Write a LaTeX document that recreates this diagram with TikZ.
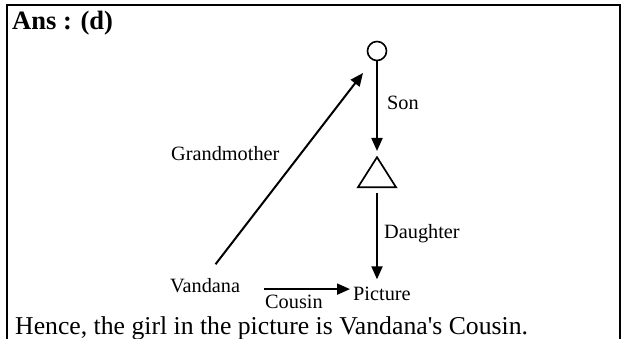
\documentclass[tikz,border=0pt]{standalone}
\usepackage{fontspec}
\setmainfont{Liberation Serif}
\usepackage{tikz}
\usetikzlibrary{shapes.geometric, arrows.meta, positioning}

\begin{document}
\begin{tikzpicture}[
    x=1pt, y=-1pt,
    label/.style={inner sep=0pt, anchor=base west, font=\fontsize{20.3}{22}\selectfont},
    female/.style={circle, draw=black, line width=1.6pt, minimum size=19pt, inner sep=0pt},
    male/.style={isosceles triangle, shape border rotate=90, isosceles triangle stretches, draw=black, line width=1.7pt, minimum width=38pt, minimum height=30pt, inner sep=0pt},
    arrow/.style={-{Triangle[length=13pt,width=11pt]}, line width=2pt, draw=black}
]
\useasboundingbox (0,0) rectangle (624,339);

% Open frame
\draw[line width=2pt] (7,339) -- (7,5) -- (620,5) -- (620,339);
\node[inner sep=0pt, anchor=base west, font=\fontsize{26.5}{28}\selectfont\bfseries] (ans) at (12,30) {Ans : (d)};

% Family tree
\node[female] (mother) at (377,51) {};
\node[male, anchor=apex] (father) at (377,155) {};
\node[label] (picture) at (353,300) {Picture};
\node[label] (vandana) at (170,292) {Vandana};
\coordinate (gmtip) at (363,73);

% Labels
\node[label] (son) at (387,110) {Son};
\node[label] (daughter) at (384,239) {Daughter};
\node[label] (grandmother) at (171,161) {Grandmother};
\node[label] (cousin) at (265,308) {Cousin};

% Connectors
\draw[arrow, shorten >=4pt] (mother.south) -- (father.apex);
\draw[arrow, shorten <=5pt, shorten >=7pt] (father.south) -- (father.south |- picture.north);
\draw[arrow, shorten <=17pt] (vandana.north) -- (gmtip);
\draw[arrow, shorten <=24pt, shorten >=3pt] ([yshift=-4pt]vandana.east) -- ([yshift=-4pt]vandana.east -| picture.west);

% Conclusion
\node[inner sep=0pt, anchor=base west, font=\fontsize{25.7}{28}\selectfont] (hence) at (15,334) {Hence, the girl in the picture is Vandana\textquotesingle s Cousin.};
\end{tikzpicture}
\end{document}
